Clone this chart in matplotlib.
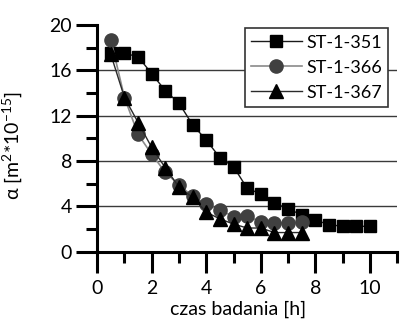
import numpy as np
import matplotlib
matplotlib.use("Agg")
import matplotlib.pyplot as plt
from matplotlib.ticker import MultipleLocator

plt.rcParams['font.family'] = ['Lato', 'DejaVu Sans']
plt.rcParams['mathtext.fontset'] = 'custom'
plt.rcParams['mathtext.rm'] = 'Lato'
plt.rcParams['mathtext.it'] = 'Lato'

# czas badania [h]
t_351 = [0.5, 1.0, 1.5, 2.0, 2.5, 3.0, 3.5, 4.0, 4.5, 5.0,
         5.5, 6.0, 6.5, 7.0, 7.5, 8.0, 8.5, 9.0, 9.5, 10.0]
a_351 = [17.5, 17.5, 17.2, 15.7, 14.2, 13.1, 11.2, 9.85, 8.3, 7.5,
         5.6, 5.1, 4.3, 3.8, 3.25, 2.8, 2.4, 2.25, 2.25, 2.25]

t_366 = [0.5, 1.0, 1.5, 2.0, 2.5, 3.0, 3.5, 4.0, 4.5, 5.0,
         5.5, 6.0, 6.5, 7.0, 7.5]
a_366 = [18.7, 13.6, 10.35, 8.6, 7.0, 5.9, 4.9, 4.2, 3.7, 3.1,
         3.2, 2.6, 2.55, 2.55, 2.6]

t_367 = [0.5, 1.0, 1.5, 2.0, 2.5, 3.0, 3.5, 4.0, 4.5, 5.0,
         5.5, 6.0, 6.5, 7.0, 7.5]
a_367 = [17.4, 13.6, 11.4, 9.2, 7.4, 5.7, 4.8, 3.5, 2.9, 2.45,
         2.1, 2.1, 1.7, 1.7, 1.7]

fs = 14

fig = plt.figure(figsize=(4, 3.2), dpi=100)
ax = fig.add_axes([0.243, 0.213, 0.75, 0.709])

# siatka pozioma
for yv in [4, 8, 12, 16]:
    ax.axhline(yv, color='#3a3a3a', lw=1.0, zorder=1)

ax.plot(t_351, a_351, color='#1a1a1a', lw=1.0, marker='s', ms=8.3,
        mfc='black', mec='black', label='ST-1-351', zorder=3)
ax.plot(t_366, a_366, color='#8a8a8a', lw=1.2, marker='o', ms=9.5,
        mfc='#404040', mec='#404040', label='ST-1-366', zorder=3)
ax.plot(t_367, a_367, color='#2a2a2a', lw=1.0, marker='^', ms=9.5,
        mfc='black', mec='black', label='ST-1-367', zorder=4)

ax.set_xlim(0, 11)
ax.set_ylim(0, 20)
ax.xaxis.set_major_locator(MultipleLocator(2))
ax.xaxis.set_minor_locator(MultipleLocator(1))
ax.yaxis.set_major_locator(MultipleLocator(4))
ax.yaxis.set_minor_locator(MultipleLocator(2))
ax.set_xticks([0, 2, 4, 6, 8, 10])

for s in ['top', 'right']:
    ax.spines[s].set_visible(False)
for s in ['left', 'bottom']:
    ax.spines[s].set_linewidth(2.2)
ax.tick_params(which='major', length=15, width=2.2, labelsize=fs)
ax.tick_params(axis='x', which='major', pad=5)
ax.tick_params(axis='y', which='major', pad=3)
ax.tick_params(which='minor', length=8, width=2.2)

ax.set_xlabel('czas badania [h]', fontsize=fs)
ax.xaxis.set_label_coords(0.47, -0.215)
ax.set_ylabel(r'α [m$^{2}$*10$^{-15}$]', fontsize=fs)
ax.yaxis.set_label_coords(-0.245, 0.47)

leg = ax.legend(loc='upper right', bbox_to_anchor=(1.0, 1.025), fontsize=13,
                handlelength=2.8, handletextpad=0.25, borderpad=0.35,
                labelspacing=0.5, fancybox=False, framealpha=1.0,
                edgecolor='#333333')
leg.get_frame().set_linewidth(1.2)

fig.savefig('out.png', dpi=100)
